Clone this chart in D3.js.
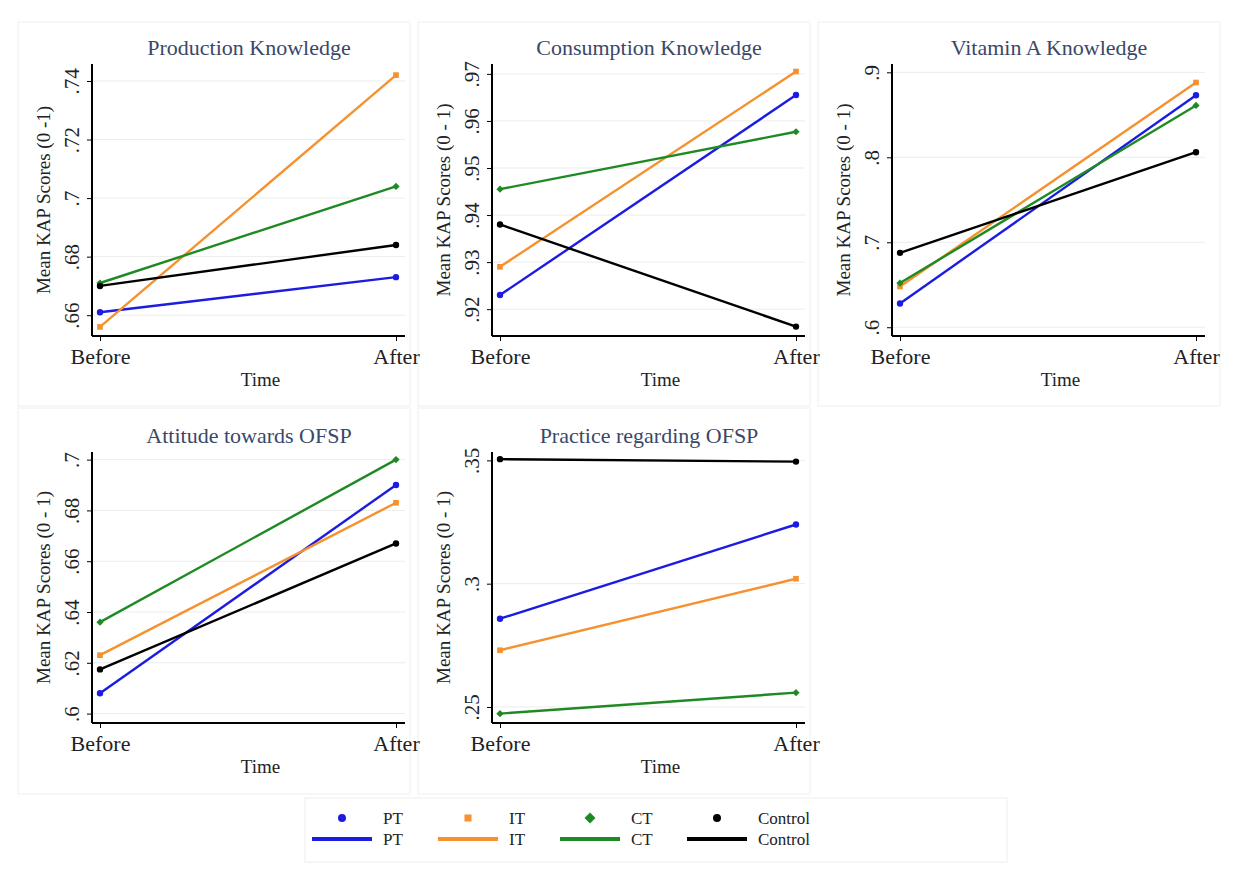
<!DOCTYPE html>
<html>
<head>
<meta charset="utf-8">
<script src="https://cdn.jsdelivr.net/npm/d3@7"></script>
<style>
  body { margin: 0; background: #fff; }
  svg { font-family: "Liberation Serif", "Times New Roman", serif; }
</style>
</head>
<body>
<svg id="chart"></svg>
<script>
// categories
const times = ["Before", "After"];
const groups = ["PT", "IT", "CT", "Control"];
const titles = ["Production Knowledge", "Consumption Knowledge", "Vitamin A Knowledge",
                "Attitude towards OFSP", "Practice regarding OFSP"];
const yTitles = ["Mean KAP Scores (0 -1)", "Mean KAP Scores (0 - 1)", "Mean KAP Scores (0 - 1)",
                 "Mean KAP Scores (0 - 1)", "Mean KAP Scores (0 - 1)"];

// values per panel, order PT, IT, CT, Control
const productionBefore = [0.661, 0.656, 0.671, 0.670];
const productionAfter  = [0.673, 0.742, 0.704, 0.684];
const consumptionBefore = [0.923, 0.929, 0.9455, 0.938];
const consumptionAfter  = [0.9655, 0.9705, 0.9577, 0.9163];
const vitaminBefore = [0.628, 0.648, 0.652, 0.6875];
const vitaminAfter  = [0.873, 0.888, 0.861, 0.806];
const attitudeBefore = [0.608, 0.623, 0.636, 0.6174];
const attitudeAfter  = [0.690, 0.683, 0.700, 0.667];
const practiceBefore = [0.2858, 0.273, 0.2473, 0.3505];
const practiceAfter  = [0.324, 0.302, 0.2558, 0.3495];

// tick labels
const productionTicks = [0.66, 0.68, 0.70, 0.72, 0.74];
const consumptionTicks = [0.92, 0.93, 0.94, 0.95, 0.96, 0.97];
const vitaminTicks = [0.6, 0.7, 0.8, 0.9];
const attitudeTicks = [0.60, 0.62, 0.64, 0.66, 0.68, 0.70];
const practiceTicks = [0.25, 0.30, 0.35];

const panels = [
  { before: productionBefore, after: productionAfter, ticks: productionTicks, domain: [0.6529, 0.7458] },
  { before: consumptionBefore, after: consumptionAfter, ticks: consumptionTicks, domain: [0.9143, 0.9721] },
  { before: vitaminBefore, after: vitaminAfter, ticks: vitaminTicks, domain: [0.5897, 0.9098] },
  { before: attitudeBefore, after: attitudeAfter, ticks: attitudeTicks, domain: [0.5963, 0.7030] },
  { before: practiceBefore, after: practiceAfter, ticks: practiceTicks, domain: [0.2435, 0.3534] }
];

const colors = { PT: "#1c1ce0", IT: "#f5922f", CT: "#1f8a24", Control: "#000000" };
const shapes = { PT: d3.symbolCircle, IT: d3.symbolSquare, CT: d3.symbolSquare, Control: d3.symbolCircle };
const titleColor = "#3a4868";

const svg = d3.select("#chart").attr("width", 1241).attr("height", 888);

function fmtTick(v) {
  return d3.format(".2~f")(v).replace(/^0/, "");
}

function marker(grp, size) {
  // Stata diamond = square turned 45 degrees
  let rot = grp === "CT" ? " rotate(45)" : "";
  return { d: d3.symbol().type(shapes[grp]).size(size)(), rot: rot };
}

const colX = [18, 418, 818];
const rowY = [22, 408];

// panel backgrounds first so long labels can spill over the edges
panels.forEach(function (p, i) {
  let col = i % 3, row = Math.floor(i / 3);
  svg.append("rect")
    .attr("x", colX[col]).attr("y", rowY[row])
    .attr("width", col === 2 ? 402 : 392).attr("height", row === 0 ? 384 : 386)
    .attr("fill", "#fff").attr("stroke", "#efefef");
});

panels.forEach(function (p, i) {
  let col = i % 3, row = Math.floor(i / 3);
  let px = colX[col], py = rowY[row];
  let g = svg.append("g").attr("transform", "translate(" + px + "," + py + ")");

  let axisX = 74, rightX = 387;
  let top = row === 0 ? 42 : 44, bottom = row === 0 ? 314 : 315;

  let x = d3.scalePoint().domain(times).range([axisX + 8, rightX - 9]);
  let y = d3.scaleLinear().domain(p.domain).range([bottom, top]);

  // grid
  g.append("g").selectAll("line").data(p.ticks).join("line")
    .attr("x1", axisX).attr("x2", rightX)
    .attr("y1", d => y(d)).attr("y2", d => y(d))
    .attr("stroke", "#ececec").attr("stroke-width", 1);

  // y axis
  let yAxis = g.append("g")
    .attr("transform", "translate(" + axisX + ",0)")
    .call(d3.axisLeft(y).tickValues(p.ticks).tickSize(5).tickSizeOuter(0).tickFormat(fmtTick));
  yAxis.attr("font-family", null);
  yAxis.select(".domain").attr("stroke", "#000").attr("stroke-width", 2)
    .attr("d", "M0," + top + "V" + bottom);
  yAxis.selectAll(".tick line").attr("stroke", "#000");
  yAxis.selectAll(".tick text")
    .attr("font-size", 21).attr("fill", "#222")
    .attr("text-anchor", "middle")
    .attr("transform", "rotate(-90)")
    .attr("x", 0).attr("y", -13).attr("dy", 0);

  // x axis
  let xAxis = g.append("g")
    .attr("transform", "translate(0," + bottom + ")")
    .call(d3.axisBottom(x).tickSize(5).tickSizeOuter(0));
  xAxis.attr("font-family", null);
  xAxis.select(".domain").attr("stroke", "#000").attr("stroke-width", 2)
    .attr("d", "M" + axisX + ",0H" + rightX);
  xAxis.selectAll(".tick line").attr("stroke", "#000");
  xAxis.selectAll(".tick text").attr("font-size", 22).attr("fill", "#222").attr("dy", "0.9em");

  // titles
  g.append("text")
    .attr("x", 231).attr("y", row === 0 ? 33 : 35)
    .attr("text-anchor", "middle").attr("font-size", 22)
    .attr("fill", titleColor).text(titles[i]);

  g.append("text")
    .attr("transform", "translate(32," + ((top + bottom) / 2) + ") rotate(-90)")
    .attr("text-anchor", "middle").attr("font-size", 19)
    .attr("fill", "#222").text(yTitles[i]);

  g.append("text")
    .attr("x", (axisX + rightX) / 2 + 12).attr("y", bottom + 50)
    .attr("text-anchor", "middle").attr("font-size", 19)
    .attr("fill", "#222").text("Time");

  // series lines and markers
  let line = d3.line().x(d => x(d.t)).y(d => y(d.v));
  groups.forEach(function (grp, k) {
    let pts = [{ t: "Before", v: p.before[k] }, { t: "After", v: p.after[k] }];
    g.append("path").datum(pts)
      .attr("fill", "none").attr("stroke", colors[grp])
      .attr("stroke-width", 2.4).attr("d", line);
    let m = marker(grp, grp === "CT" ? 26 : 32);
    g.selectAll(null).data(pts).join("path")
      .attr("transform", d => "translate(" + x(d.t) + "," + y(d.v) + ")" + m.rot)
      .attr("d", m.d)
      .attr("fill", colors[grp]);
  });
});

// legend
let lg = svg.append("g");
lg.append("rect").attr("x", 305).attr("y", 798).attr("width", 702).attr("height", 64)
  .attr("fill", "#fff").attr("stroke", "#eeeeee");
const legX = [312, 438, 560, 687];
groups.forEach(function (grp, k) {
  let lx = legX[k];
  let m = marker(grp, grp === "CT" ? 60 : 50);
  lg.append("path")
    .attr("transform", "translate(" + (lx + 30) + ",818)" + m.rot)
    .attr("d", m.d)
    .attr("fill", colors[grp]);
  lg.append("line")
    .attr("x1", lx).attr("x2", lx + 60).attr("y1", 839).attr("y2", 839)
    .attr("stroke", colors[grp]).attr("stroke-width", 4);
  lg.append("text").attr("x", lx + 71).attr("y", 824).attr("font-size", 17)
    .attr("fill", "#222").text(grp);
  lg.append("text").attr("x", lx + 71).attr("y", 845).attr("font-size", 17)
    .attr("fill", "#222").text(grp);
});
</script>
</body>
</html>
